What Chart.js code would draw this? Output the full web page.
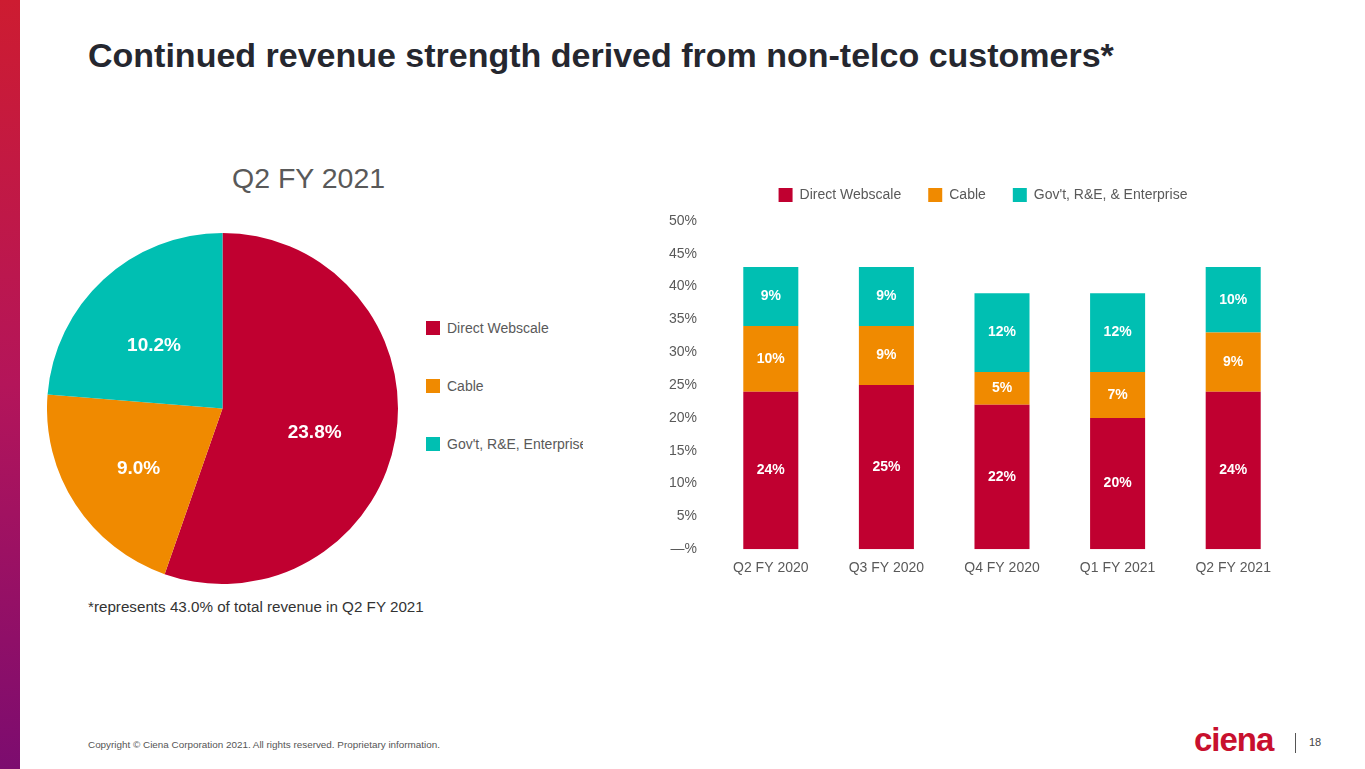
<!DOCTYPE html>
<html>
<head>
<meta charset="utf-8">
<script src="https://cdn.jsdelivr.net/npm/chart.js@4.4.0/dist/chart.umd.min.js"></script>
<style>
  html, body { margin:0; padding:0; background:#fff; }
  body { width:1365px; height:769px; position:relative; overflow:hidden; font-family:"Liberation Sans", Arial, sans-serif; }
  .side { position:absolute; left:0; top:0; width:20px; height:769px; background:linear-gradient(#cd1c31, #b4155a 50%, #7c0c6f); }
  .title { position:absolute; left:88px; top:36px; font-size:34px; font-weight:bold; color:#25272f; white-space:nowrap; }
  .pietitle { position:absolute; left:232px; top:162px; font-size:28.5px; color:#595959; }
  .leg { position:absolute; left:426px; width:157px; overflow:hidden; white-space:nowrap; font-size:14px; color:#595959; }
  .leg span { display:inline-block; width:14px; height:14px; vertical-align:-2px; margin-right:7px; }
  .note { position:absolute; left:88px; top:598px; font-size:15.2px; color:#333; }
  .copy { position:absolute; left:88px; top:739px; font-size:9.9px; color:#555; }
  .logo { position:absolute; left:1194px; top:721px; font-size:33px; font-weight:bold; color:#c8102e; letter-spacing:-1px; }
  .vline { position:absolute; left:1295px; top:733px; width:1px; height:20px; background:#555; }
  .pg { position:absolute; left:1309px; top:736px; font-size:11px; color:#444; }
  #pie { position:absolute; left:47px; top:233px; }
  #bars { position:absolute; left:655px; top:161px; }
</style>
</head>
<body>
<div class="side"></div>
<div class="title">Continued revenue strength derived from non-telco customers*</div>
<div class="pietitle">Q2 FY 2021</div>
<div class="leg" style="top:320px"><span style="background:#c00030"></span>Direct Webscale</div>
<div class="leg" style="top:378px"><span style="background:#f08a00"></span>Cable</div>
<div class="leg" style="top:436px"><span style="background:#00bfb2"></span>Gov't, R&amp;E, Enterprise</div>
<div class="note">*represents 43.0% of total revenue in Q2 FY 2021</div>
<div class="copy">Copyright © Ciena Corporation 2021. All rights reserved. Proprietary information.</div>
<div class="logo">ciena</div>
<div class="vline"></div>
<div class="pg">18</div>
<canvas id="pie" width="351" height="351" style="width:351px;height:351px"></canvas>
<canvas id="bars" width="670" height="419" style="width:670px;height:419px"></canvas>
<script>
var pieLabels = ["Direct Webscale", "Cable", "Gov't, R&E, Enterprise"];
var pieValues = [23.8, 9.0, 10.2];

var quarters = ["Q2 FY 2020", "Q3 FY 2020", "Q4 FY 2020", "Q1 FY 2021", "Q2 FY 2021"];
var webscale = [24, 25, 22, 20, 24];
var cable = [10, 9, 5, 7, 9];
var govEnt = [9, 9, 12, 12, 10];

var RED = "#c00030", ORANGE = "#f08a00", TEAL = "#00bfb2";

// white value labels inside pie slices
var pieValueLabels = {
  id: "pieValueLabels",
  afterDatasetsDraw: function(chart) {
    var ctx = chart.ctx;
    var meta = chart.getDatasetMeta(0);
    ctx.save();
    ctx.fillStyle = "#fff";
    ctx.font = "bold 19px 'Liberation Sans', Arial, sans-serif";
    ctx.textAlign = "center";
    ctx.textBaseline = "middle";
    meta.data.forEach(function(arc, i) {
      var mid = (arc.startAngle + arc.endAngle) / 2;
      var r = arc.outerRadius * 0.55;
      ctx.fillText(pieValues[i].toFixed(1) + "%", arc.x + Math.cos(mid) * r - 3, arc.y + Math.sin(mid) * r + 8);
    });
    ctx.restore();
  }
};

// white value labels centred in each bar segment
var barValueLabels = {
  id: "barValueLabels",
  afterDatasetsDraw: function(chart) {
    var ctx = chart.ctx;
    ctx.save();
    ctx.fillStyle = "#fff";
    ctx.font = "bold 14px 'Liberation Sans', Arial, sans-serif";
    ctx.textAlign = "center";
    ctx.textBaseline = "middle";
    chart.data.datasets.forEach(function(ds, d) {
      chart.getDatasetMeta(d).data.forEach(function(bar, i) {
        ctx.fillText(ds.data[i] + "%", bar.x, (bar.y + bar.base) / 2);
      });
    });
    ctx.restore();
  }
};

// extra gap under the legend, and nudge it right a little
var legendGap = {
  id: "legendGap",
  beforeInit: function(chart) {
    var fit = chart.legend.fit;
    chart.legend.fit = function() {
      fit.bind(chart.legend)();
      this.height += 9;
    };
  },
  afterLayout: function(chart) {
    chart.legend.left += 10;
    chart.legend.right += 10;
  }
};

new Chart(document.getElementById("pie"), {
  type: "pie",
  data: {
    labels: pieLabels,
    datasets: [{ data: pieValues, backgroundColor: [RED, ORANGE, TEAL], borderWidth: 0 }]
  },
  options: {
    responsive: false,
    animation: false,
    plugins: { legend: { display: false }, tooltip: { enabled: false } }
  },
  plugins: [pieValueLabels]
});

new Chart(document.getElementById("bars"), {
  type: "bar",
  data: {
    labels: quarters,
    datasets: [
      { label: "Direct Webscale", data: webscale, backgroundColor: RED },
      { label: "Cable", data: cable, backgroundColor: ORANGE },
      { label: "Gov't, R&E, & Enterprise", data: govEnt, backgroundColor: TEAL }
    ]
  },
  options: {
    responsive: false,
    animation: false,
    layout: { padding: { right: 34 } },
    datasets: { bar: { categoryPercentage: 1, barPercentage: 0.476 } },
    scales: {
      x: {
        stacked: true,
        grid: { display: false },
        border: { display: false },
        ticks: { color: "#595959", font: { size: 14, family: "'Liberation Sans', Arial, sans-serif" } }
      },
      y: {
        stacked: true,
        min: 0, max: 50,
        grid: { display: false },
        border: { display: false },
        afterFit: function(scale) { scale.width = 58; },
        ticks: {
          stepSize: 5,
          padding: 8,
          color: "#595959",
          font: { size: 14, family: "'Liberation Sans', Arial, sans-serif" },
          callback: function(v) { return v === 0 ? "\u2014%" : v + "%"; }
        }
      }
    },
    plugins: {
      legend: {
        position: "top",
        labels: {
          boxWidth: 14, boxHeight: 14, padding: 27,
          color: "#595959",
          font: { size: 14, family: "'Liberation Sans', Arial, sans-serif" }
        }
      },
      tooltip: { enabled: false }
    }
  },
  plugins: [legendGap, barValueLabels]
});
</script>
</body>
</html>
